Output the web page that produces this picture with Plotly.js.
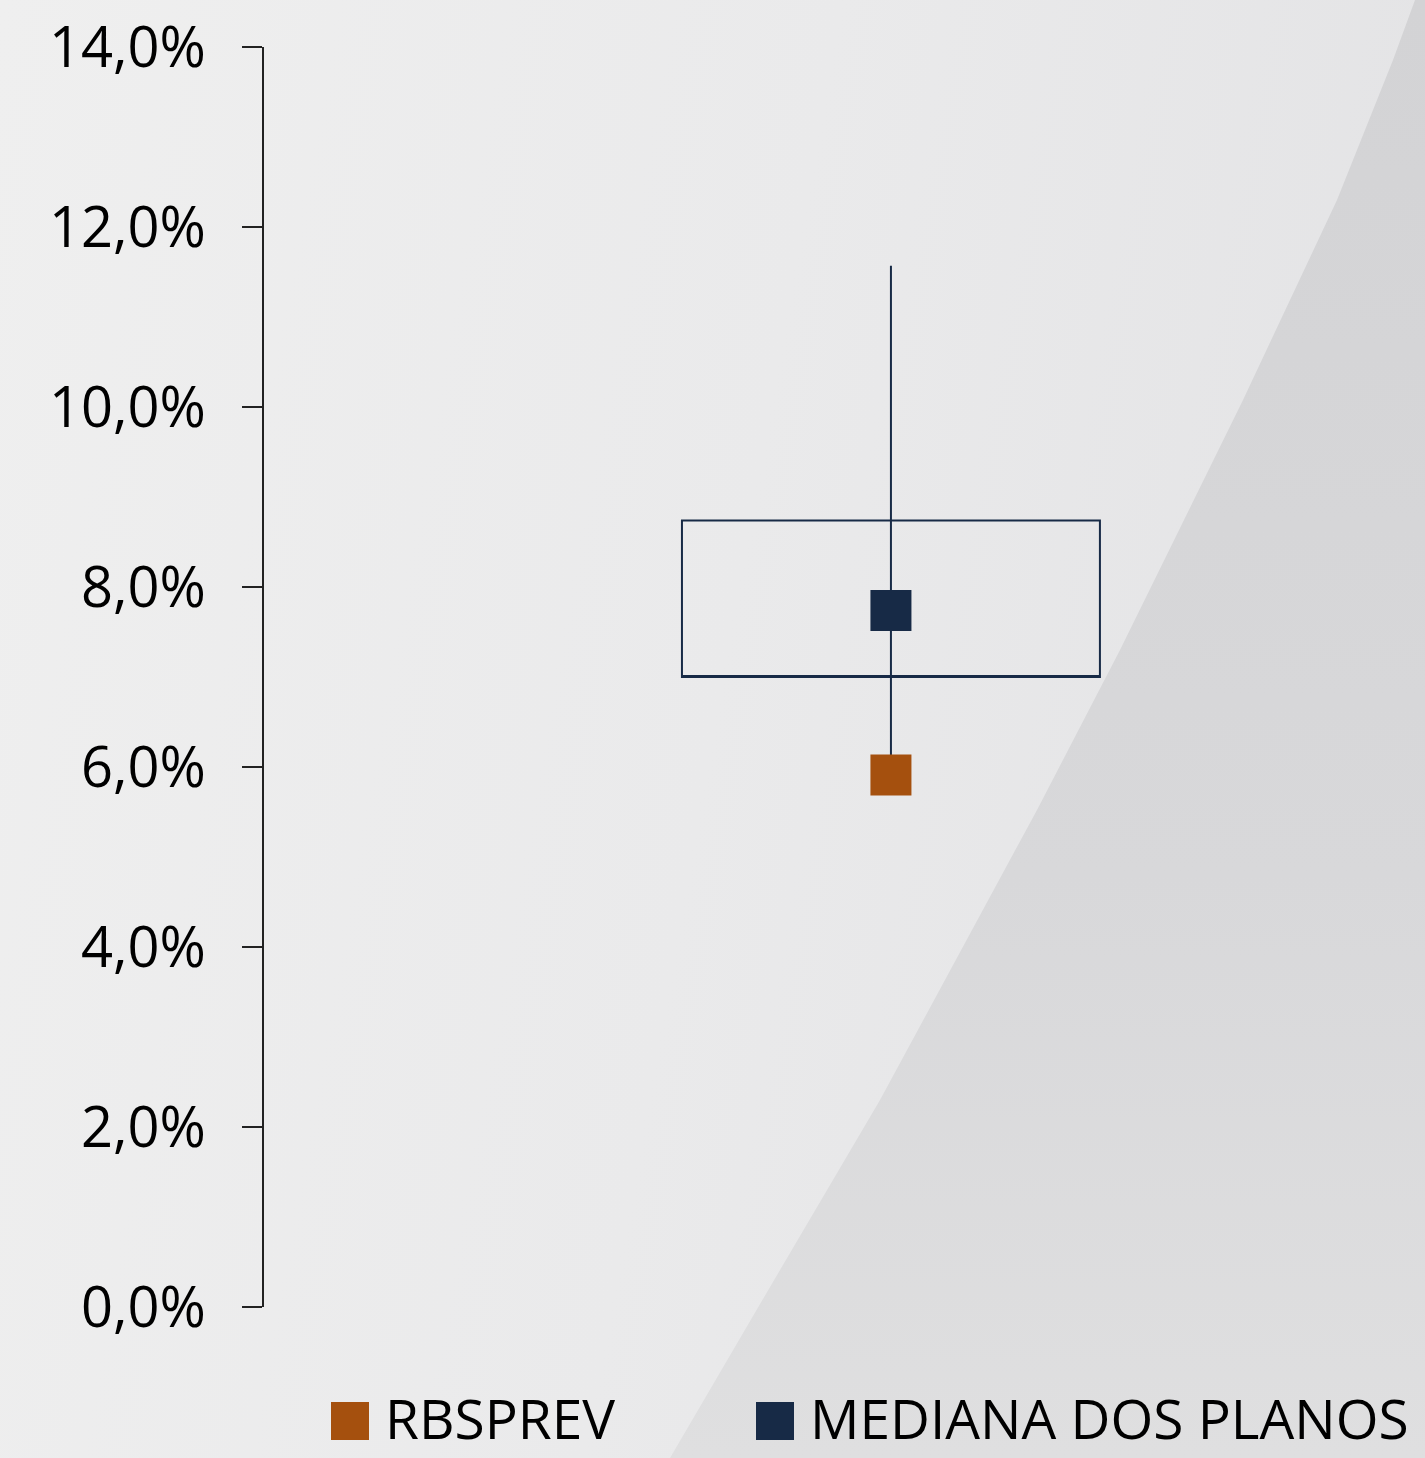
<!DOCTYPE html>
<html>
<head>
<meta charset="utf-8">
<script src="https://cdn.plot.ly/plotly-3.0.1.min.js"></script>
<style>
  html, body { margin: 0; padding: 0; width: 1425px; height: 1458px; overflow: hidden; }
  #bg { position: absolute; left: 0; top: 0; width: 1425px; height: 1458px;
        background: linear-gradient(100deg, #efefef 0%, #eaeaeb 50%, #e2e2e4 100%); }
  #dark { position: absolute; left: 0; top: 0; width: 1425px; height: 1458px;
        background: linear-gradient(180deg, #d3d3d5 0%, #d8d8da 60%, #dfdfe0 100%);
        clip-path: polygon(1415px 0px, 1425px 0px, 1425px 1458px, 670px 1458px, 780px 1270px, 880px 1100px, 1037px 810px, 1120px 650px, 1243px 400px, 1290px 300px, 1337px 200px, 1365px 130px, 1393px 60px); }
  #chart { position: absolute; left: 0; top: 0; width: 1425px; height: 1458px; }
</style>
</head>
<body>
<div id="bg"></div>
<div id="dark"></div>
<div id="chart"></div>
<script>
// ---- data ----
const seriesNames = ['RBSPREV', 'MEDIANA DOS PLANOS'];
const rbsprevValue = [5.91];
const medianaValue = [7.74];
const planosMin = [6.0];
const planosQ1 = [7.0];
const planosQ3 = [8.74];
const planosMax = [11.57];
const yTickValues = [0, 2, 4, 6, 8, 10, 12, 14];
const yTickLabels = ['0,0%', '2,0%', '4,0%', '6,0%', '8,0%', '10,0%', '12,0%', '14,0%'];

// ---- styles ----
const navy = '#172a46';
const orange = '#a5500e';
const xPos = [0.54];

const traces = [
  {
    type: 'box', x: xPos, q1: planosQ1, median: planosQ1, q3: planosQ3,
    lowerfence: planosQ1, upperfence: planosQ3,
    width: 0.36, whiskerwidth: 0, boxpoints: false,
    line: { color: navy, width: 2 }, fillcolor: 'rgba(0,0,0,0)',
    hoverinfo: 'skip', showlegend: false
  },
  {
    type: 'scatter', mode: 'lines', x: [xPos[0], xPos[0]], y: [planosMin[0], planosMax[0]],
    line: { color: navy, width: 2 }, hoverinfo: 'skip', showlegend: false
  },
  {
    type: 'scatter', mode: 'markers', name: seriesNames[1], x: xPos, y: medianaValue,
    marker: { symbol: 'square', size: 41, color: navy, line: { width: 0 } }, showlegend: false
  },
  {
    type: 'scatter', mode: 'markers', name: seriesNames[0], x: xPos, y: rbsprevValue,
    marker: { symbol: 'square', size: 41, color: orange, line: { width: 0 } }, showlegend: false
  }
];

const W = 1425, H = 1458, L = 264, T = 47, B = 151;
const pw = W - L, ph = H - T - B;
const px = v => (v - L) / pw;
const py = v => (H - B - v) / ph;

const legendFont = { family: 'Open Sans, sans-serif', size: 55, color: '#000' };

const layout = {
  width: W, height: H,
  margin: { l: L, r: 0, t: T, b: B, pad: 0 },
  paper_bgcolor: 'rgba(0,0,0,0)', plot_bgcolor: 'rgba(0,0,0,0)',
  showlegend: false,
  xaxis: { range: [0, 1], visible: false, fixedrange: true },
  yaxis: {
    range: [0, 14], tickmode: 'array', tickvals: yTickValues, ticktext: yTickLabels,
    showgrid: false, zeroline: false, showline: true, linecolor: '#222', linewidth: 2,
    ticks: 'outside', ticklen: 20, tickwidth: 2, tickcolor: '#222',
    ticklabelstandoff: 25,
    tickfont: { family: 'Open Sans, sans-serif', size: 56, color: '#000' }
  },
  shapes: [
    { type: 'rect', xref: 'paper', yref: 'paper', x0: px(331), x1: px(369), y0: py(1440), y1: py(1402),
      fillcolor: orange, line: { width: 0 } },
    { type: 'rect', xref: 'paper', yref: 'paper', x0: px(756), x1: px(794), y0: py(1440), y1: py(1402),
      fillcolor: navy, line: { width: 0 } }
  ],
  annotations: [
    { xref: 'paper', yref: 'paper', x: px(383), y: py(1418), xanchor: 'left', yanchor: 'middle',
      text: seriesNames[0], showarrow: false, font: legendFont },
    { xref: 'paper', yref: 'paper', x: px(808), y: py(1418), xanchor: 'left', yanchor: 'middle',
      text: seriesNames[1], showarrow: false, font: legendFont }
  ]
};

Plotly.newPlot('chart', traces, layout, { staticPlot: true, displayModeBar: false });
</script>
</body>
</html>
